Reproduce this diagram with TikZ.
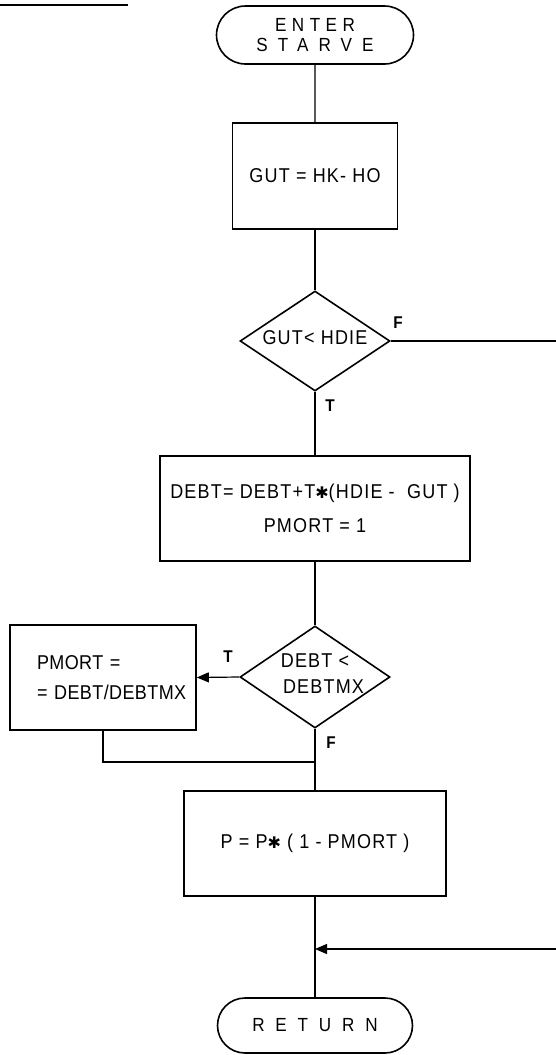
\documentclass[tikz,border=0pt]{standalone}
\usepackage{fontspec}
\setmainfont{Liberation Sans}[LetterSpace=6,FakeStretch=0.9]
\newfontfamily\symf{DejaVu Sans}
\newcommand{\mystar}{{\symf\fontsize{16}{16}\selectfont ✱}}
\newcommand{\zbox}[1]{\makebox[0pt][c]{\smash{\raisebox{-4pt}{\begin{tabular}{@{}c@{}}#1\end{tabular}}}}}
\usetikzlibrary{shapes.geometric,shapes.misc,arrows.meta}
\begin{document}
\begin{tikzpicture}[x=1pt,y=-1pt,
  every node/.style={font=\fontsize{20}{24}\selectfont},
  term/.style={rounded rectangle, draw, line width=1.6pt, inner sep=0pt, align=center,
     font=\fontsize{19}{22}\selectfont},
  proc/.style={rectangle, draw, line width=1.6pt, inner sep=0pt, align=center},
  dec/.style={diamond, draw, line width=1.6pt, inner sep=0pt, align=center},
  conn/.style={line width=1.2pt},
  arr/.style={conn, -{Triangle[length=12pt,width=10pt]}},
  lab/.style={font=\fontsize{17}{20}\selectfont\bfseries, inner sep=0pt}]
\useasboundingbox (0,0) rectangle (556,1055);
\draw[line width=2.4pt] (0,5) -- (128,5);

\node[term, minimum width=197pt, minimum height=58pt] (enter) at (315,35)
  {\addfontfeatures{LetterSpace=29}ENTER\\[-2pt]\addfontfeatures{LetterSpace=53}STARVE};
\node[proc, minimum width=165pt, minimum height=106pt] (gut) at (315,176) {GUT = HK- HO};
\node[dec, minimum width=150pt, minimum height=100pt] (d1) at (315,341) {\zbox{GUT< HDIE}};
\node[proc, minimum width=310pt, minimum height=105pt] (debt) at (315,508.5)
  {DEBT= DEBT+T\mystar(HDIE - \ GUT )\\[10pt]PMORT = 1};
\node[dec, minimum width=150pt, minimum height=102pt] (d2) at (315,677)
  {\zbox{DEBT <\hspace{17pt}\\[2pt]\hspace{17pt}DEBTMX}};
\node[proc, minimum width=182pt, minimum height=105pt, align=left, text width=186pt] (pm) at (103,677.5)
  {\addfontfeatures{LetterSpace=2}\hspace*{27pt}PMORT =\\[6pt]\hspace*{27pt}= DEBT/DEBTMX};
\node[proc, minimum width=262pt, minimum height=105pt] (p) at (315,843.5) {P = P\mystar\ ( 1 - PMORT )};
\node[term, minimum width=195pt, minimum height=55pt] (ret) at (315,1025.5)
  {\addfontfeatures{LetterSpace=57}RETURN};

\coordinate (fout) at (556,341);
\coordinate (fin) at (556,949);
\coordinate (mrg) at (315,949);
\coordinate (jn) at (315,762);

\draw[conn] (enter) -- (gut);
\draw[conn] (gut) -- (d1);
\draw[conn] (d1.south) -- (debt.north);
\draw[conn] (debt) -- (d2);
\draw[conn] (d1.east) -- (fout);
\draw[arr] (d2.west) -- (pm.east);
\draw[conn] (pm.south) |- (jn);
\draw[conn] (d2.south) -- (p.north);
\draw[conn] (p) -- (ret);
\draw[arr] (fin) -- (mrg);

\node[lab] (f1) at (398,323) {F};
\node[lab] (t1) at (330,406) {T};
\node[lab] (t2) at (228,657) {T};
\node[lab] (f2) at (331,743) {F};
\end{tikzpicture}
\end{document}
